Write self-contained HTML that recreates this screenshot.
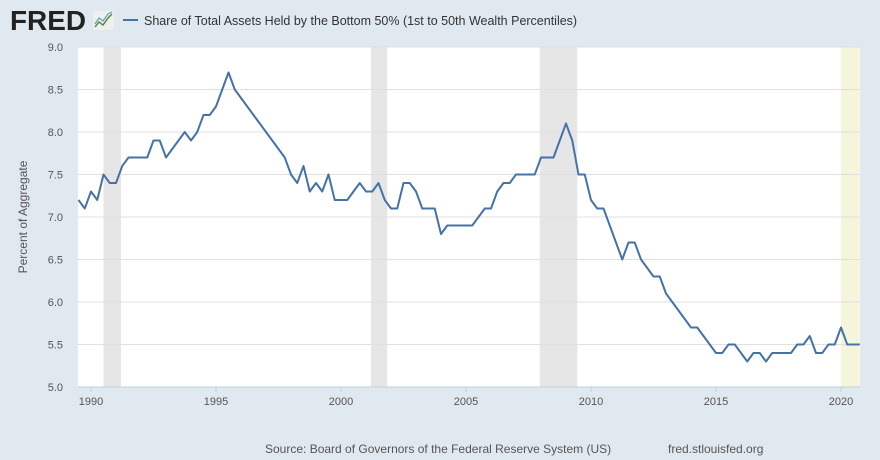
<!DOCTYPE html>
<html><head><meta charset="utf-8"><style>
body{margin:0;background:#e1e9f0;}
svg{display:block;font-family:"Liberation Sans",sans-serif;}
</style></head><body>
<svg width="880" height="460" viewBox="0 0 880 460">
<rect width="880" height="460" fill="#e1e9f0"/>
<g>
<text x="10" y="30" font-size="28" font-weight="bold" fill="#222" textLength="76" lengthAdjust="spacingAndGlyphs">FRED</text>
<rect x="93" y="11" width="21" height="19" rx="2" fill="#eef0ee"/>
<polyline points="95,27 99,22 103,25 108,18 112,14" fill="none" stroke="#4a8a3a" stroke-width="1.4"/>
<polyline points="95,24 99,18 103,21 108,14 112,12" fill="none" stroke="#6a9ac8" stroke-width="1.2"/>
</g>
<g>
<line x1="123" y1="20" x2="138" y2="20" stroke="#4572a7" stroke-width="2"/>
<text x="144" y="25" font-size="12.5" fill="#333">Share of Total Assets Held by the Bottom 50% (1st to 50th Wealth Percentiles)</text>
</g>
<rect x="78" y="47" width="782" height="340" fill="#fff"/>
<g id="rec"></g>
<g id="grid"></g>
<g id="axes"></g>
<path id="line" fill="none" stroke="#4572a7" stroke-width="2" stroke-linejoin="round"/>
<text transform="translate(27,217) rotate(-90)" text-anchor="middle" font-size="12" fill="#555">Percent of Aggregate</text>
<text x="265" y="453" font-size="12" fill="#555">Source: Board of Governors of the Federal Reserve System (US)</text>
<text x="668" y="453" font-size="12" fill="#555">fred.stlouisfed.org</text>
</svg>
<script>
const startYear = 1989.5;
const values = [7.2,7.1,7.3,7.2,7.5,7.4,7.4,7.6,7.7,7.7,7.7,7.7,7.9,7.9,7.7,7.8,7.9,8.0,7.9,8.0,8.2,8.2,8.3,8.5,8.7,8.5,
8.4,8.3,8.2,8.1,8.0,7.9,7.8,7.7,7.5,7.4,7.6,7.3,7.4,7.3,7.5,7.2,7.2,7.2,7.3,7.4,7.3,7.3,7.4,7.2,7.1,7.1,7.4,7.4,7.3,7.1,7.1,7.1,
6.8,6.9,6.9,6.9,6.9,6.9,7.0,7.1,7.1,7.3,7.4,7.4,7.5,7.5,7.5,7.5,7.7,7.7,7.7,7.9,8.1,7.9,7.5,7.5,7.2,7.1,7.1,6.9,
6.7,6.5,6.7,6.7,6.5,6.4,6.3,6.3,6.1,6.0,5.9,5.8,5.7,5.7,5.6,5.5,5.4,5.4,5.5,5.5,5.4,5.3,5.4,5.4,5.3,5.4,5.4,5.4,
5.4,5.5,5.5,5.6,5.4,5.4,5.5,5.5,5.7,5.5,5.5,5.5];
const yTicks = [5.0,5.5,6.0,6.5,7.0,7.5,8.0,8.5,9.0];
const xTicks = [1990,1995,2000,2005,2010,2015,2020];
const recessionStarts = [1990.5,2001.2,2007.95,2020.0];
const recessionEnds = [1991.2,2001.85,2009.45,2020.75];
const X = t => 91 + (t - 1990) * 25;
const Y = v => 387 - (v - 5) * 85;
const NS = "http://www.w3.org/2000/svg";
const rec = document.getElementById('rec');
recessionStarts.forEach((s, i) => {
  const r = document.createElementNS(NS, 'rect');
  
  
  r.setAttribute('x', X(s)); r.setAttribute('y', 47);
  r.setAttribute('width', X(recessionEnds[i]) - X(s)); r.setAttribute('height', 340);
  r.setAttribute('fill', i === 3 ? '#f5f5dc' : '#e6e6e6');
  rec.appendChild(r);
});
const grid = document.getElementById('grid');
yTicks.forEach(v => {
  const l = document.createElementNS(NS, 'line');
  
  
  l.setAttribute('x1', 78); l.setAttribute('x2', 860);
  l.setAttribute('y1', Y(v)); l.setAttribute('y2', Y(v));
  l.setAttribute('stroke', v === 5 ? '#c0d0e0' : '#e0e0e0'); l.setAttribute('stroke-width', 1);
  grid.appendChild(l);
  const t = document.createElementNS(NS, 'text');
  
  
  t.setAttribute('x', 63); t.setAttribute('y', Y(v) + 4);
  t.setAttribute('text-anchor', 'end'); t.setAttribute('font-size', 11); t.setAttribute('fill', '#555');
  t.textContent = v.toFixed(1);
  grid.appendChild(t);
});
const axes = document.getElementById('axes');
xTicks.forEach(yr => {
  const l = document.createElementNS(NS, 'line');
  
  
  l.setAttribute('x1', X(yr)); l.setAttribute('x2', X(yr));
  l.setAttribute('y1', 387); l.setAttribute('y2', 392);
  l.setAttribute('stroke', '#c0d0e0');
  axes.appendChild(l);
  const t = document.createElementNS(NS, 'text');
  
  
  t.setAttribute('x', X(yr)); t.setAttribute('y', 405);
  t.setAttribute('text-anchor', 'middle'); t.setAttribute('font-size', 11); t.setAttribute('fill', '#555');
  t.textContent = yr;
  axes.appendChild(t);
});
document.getElementById('line').setAttribute('d',
  values.map((v, i) => (i ? 'L' : 'M') + X(startYear + i / 4).toFixed(2) + ',' + Y(v).toFixed(2)).join(''));
</script>
</body></html>
